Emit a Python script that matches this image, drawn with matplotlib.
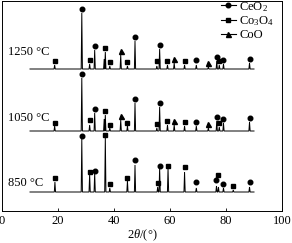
import numpy as np
import matplotlib
matplotlib.use("Agg")
import matplotlib.pyplot as plt
from matplotlib.lines import Line2D
from matplotlib.legend_handler import HandlerLine2D

plt.rcParams['font.family'] = ['Liberation Serif', 'DejaVu Serif']
plt.rcParams['mathtext.fontset'] = 'custom'
plt.rcParams['mathtext.rm'] = 'Liberation Serif'
plt.rcParams['mathtext.it'] = 'Liberation Serif:italic'

# ---- data ----
temps = ["1250 °C", "1050 °C", "850 °C"]
offsets = [142, 80, 19]
label_y = [159, 93, 28]

x_1250 = [18.8, 28.5, 31.3, 33.1, 36.5, 36.9, 38.5, 42.4, 44.8, 47.5, 55.3, 56.3, 59.1, 61.5, 65.2, 69.4, 73.7, 76.7, 77.6, 79.1, 88.4]
h_1250 = [4, 56, 5, 19, 10, 17, 3, 14, 3, 28, 3, 20, 4, 6, 4, 4, 2, 8, 4, 5, 6]
p_1250 = ['s', 'c', 's', 'c', '', 's', 's', 't', 's', 'c', 's', 'c', 's', 't', 's', 'c', 't', 'c', 's', 'c', 'c']
m_1250 = [8, 60, 9, 23, 0, 21, 7, 18, 7, 32, 8, 24, 8, 10, 8, 9, 6, 12, 8, 9, 10]

x_1050 = [18.8, 28.5, 31.3, 33.1, 36.5, 36.9, 38.5, 42.4, 44.8, 47.5, 55.3, 56.3, 59.1, 61.5, 65.2, 69.4, 73.7, 76.7, 77.6, 79.1, 88.4]
h_1050 = [5, 53, 6, 18, 12, 16, 3, 11, 5, 28, 3, 24, 6, 6, 5, 5, 3, 10, 4, 8, 9]
p_1050 = ['s', 'c', 's', 'c', '', 's', 's', 't', 's', 'c', 's', 'c', 's', 't', 's', 'c', 't', 'c', 's', 'c', 'c']
m_1050 = [8, 57, 11, 22, 0, 20, 6, 15, 8, 32, 7, 28, 10, 10, 9, 9, 7, 14, 8, 12, 13]

x_850 = [18.9, 28.5, 31.3, 33.1, 36.9, 38.5, 44.8, 47.5, 55.6, 56.3, 59.3, 65.2, 69.4, 76.6, 77.3, 79.1, 82.6, 88.4]
h_850 = [10, 53, 18, 19, 55, 4, 11, 27, 5, 24, 24, 20, 4, 6, 5, 4, 2, 5]
p_850 = ['s', 'c', 's', 'c', 's', 's', 's', 'c', 's', 'c', 's', 's', 'c', 'c', 's', 'c', 's', 'c']
m_850 = [14, 56, 20, 21, 57, 8, 14, 32, 9, 26, 26, 25, 10, 12, 17, 8, 6, 10]

patterns = [(x_1250, h_1250, p_1250, m_1250),
            (x_1050, h_1050, p_1050, m_1050),
            (x_850, h_850, p_850, m_850)]

phase_names = {'c': 'CeO$_2$', 's': 'Co$_3$O$_4$', 't': 'CoO'}
phase_marker = {'c': ('o', 3.3), 's': ('s', 3.1), 't': ('^', 3.6)}
x_start, x_end = 10, 90


class MarkerFirst(HandlerLine2D):
    def get_xdata(self, legend, xdescent, ydescent, width, height, fontsize):
        x0 = -xdescent
        return [x0 + 0.38 * width, x0 + width], [x0 + 0.12 * width]


# ---- figure ----
fig = plt.figure(figsize=(2.92, 2.43), dpi=100)
ax = fig.add_axes([2 / 292, 32 / 243, 280 / 292, 210 / 243])

w = 0.22
for (xs, hs, ps, ms), off in zip(patterns, offsets):
    px, py = [x_start], [off]
    for x, h in sorted(zip(xs, hs)):
        px += [x - w, x, x + w]
        py += [off, off + h, off]
    px.append(x_end)
    py.append(off)
    ax.plot(px, py, color='black', lw=0.7, solid_joinstyle='miter')
    for key in ['c', 's', 't']:
        mx = [x for x, p in zip(xs, ps) if p == key]
        my = [off + m for m, p in zip(ms, ps) if p == key]
        mk, sz = phase_marker[key]
        ax.plot(mx, my, linestyle='none', marker=mk, markersize=sz,
                color='black')

for t, y in zip(temps, label_y):
    ax.text(2, y, t, fontsize=9, ha='left', va='center')

handles = []
for key in ['c', 's', 't']:
    mk, sz = phase_marker[key]
    handles.append(Line2D([], [], color='black', lw=0.8, marker=mk,
                          markersize=sz))
ax.legend(handles, [phase_names[k] for k in ['c', 's', 't']],
          loc='upper right', bbox_to_anchor=(0.99, 1.03), frameon=False,
          handler_map={Line2D: MarkerFirst(numpoints=1)},
          handlelength=1.9, handletextpad=0.3,
          labelspacing=0.08, fontsize=9, borderaxespad=0.0)

ax.set_xlim(0, 100)
ax.set_ylim(0, 210)
ax.set_xticks([0, 20, 40, 60, 80, 100])
ax.set_yticks([])
ax.tick_params(axis='x', direction='in', length=2.5, width=0.6,
               labelsize=9, pad=3)
for s in ax.spines.values():
    s.set_linewidth(0.7)
ax.set_xlabel(r'$\mathit{2\theta}$/(°)', fontsize=9, labelpad=0)

fig.savefig('out.png', dpi=100)
